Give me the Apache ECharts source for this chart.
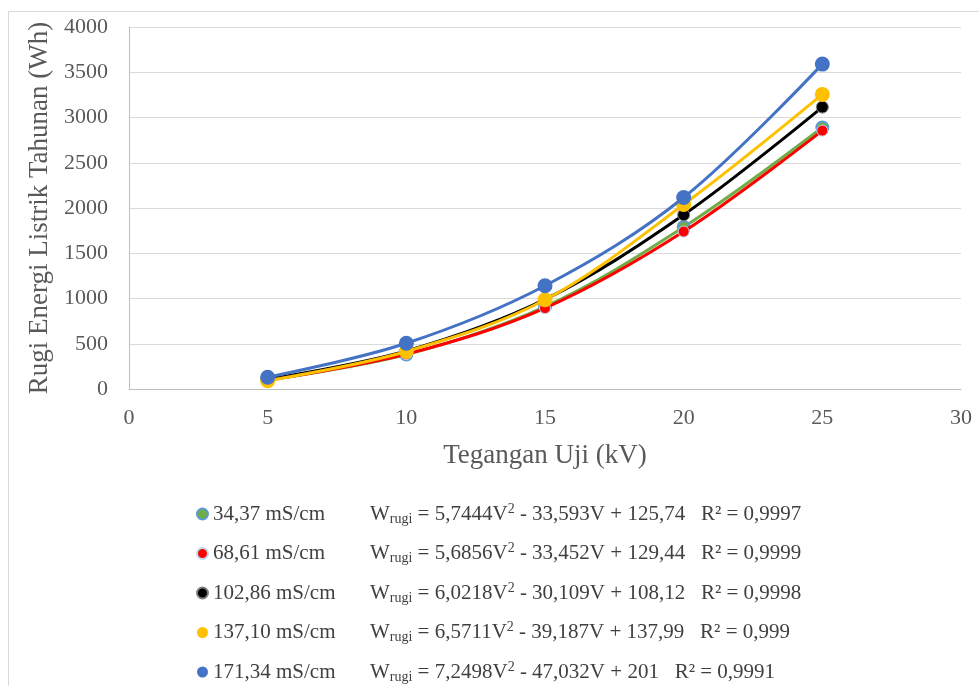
<!DOCTYPE html>
<html>
<head>
<meta charset="utf-8">
<script src="https://cdn.jsdelivr.net/npm/echarts@6/dist/echarts.min.js"></script>
<style>
    html, body { margin: 0; padding: 0; background: #fff; }
    #chart { width: 979px; height: 686px; }
</style>
</head>
<body>
<div id="chart"></div>
<script>
// DATA
const voltages = [5, 10, 15, 20, 25];
const seriesNames = ['34,37 mS/cm', '68,61 mS/cm', '102,86 mS/cm', '137,10 mS/cm', '171,34 mS/cm'];
const loss3437 = [100, 380, 910, 1790, 2890];
const loss6861 = [98, 385, 894, 1740, 2855];
const loss10286 = [108, 420, 990, 1925, 3115];
const loss13710 = [92, 415, 986, 2039, 3255];
const loss17134 = [130, 506, 1141, 2116, 3590];
const equations = [
    ['5,7444', '33,593', '125,74', '0,9997'],
    ['5,6856', '33,452', '129,44', '0,9999'],
    ['6,0218', '30,109', '108,12', '0,9998'],
    ['6,5711', '39,187', '137,99', '0,999'],
    ['7,2498', '47,032', '201', '0,9991']
];
const xTicks = { min: 0, max: 30, interval: 5 };
const yTicks = { min: 0, max: 4000, interval: 500 };

const fontFamily = '"Liberation Serif", "DejaVu Serif", serif';
const lossData = [loss3437, loss6861, loss10286, loss13710, loss17134];

// SERIES STYLES
const styles = [
    { line: '#70ad47', fill: '#70ad47', border: '#5b9bd5', size: 12, borderWidth: 2 },
    { line: '#ff0000', fill: '#ff0000', border: '#bdd7ee', size: 11, borderWidth: 1 },
    { line: '#000000', fill: '#000000', border: '#7f7f7f', size: 12, borderWidth: 1 },
    { line: '#ffc000', fill: '#ffc000', border: '#ffc000', size: 15, borderWidth: 0 },
    { line: '#4472c4', fill: '#4472c4', border: '#4472c4', size: 15, borderWidth: 0 }
];

const chart = echarts.init(document.querySelector('#chart'));

const series = seriesNames.map((name, i) => ({
    name: name,
    type: 'line',
    smooth: 0.35,
    data: voltages.map((v, j) => [v, lossData[i][j]]),
    symbol: 'circle',
    symbolSize: styles[i].size,
    showSymbol: true,
    lineStyle: { color: styles[i].line, width: 3 },
    itemStyle: {
        color: styles[i].fill,
        borderColor: styles[i].border,
        borderWidth: styles[i].borderWidth
    },
    z: 2 + i
}));

function legendText(name) {
    const eq = equations[seriesNames.indexOf(name)];
    return `{n|${name}}{e|W}{s|rugi}{e| = ${eq[0]}V}{p|2}{e| - ${eq[1]}V + ${eq[2]}   R² = ${eq[3]}}`;
}

const option = {
    backgroundColor: '#fff',
    animation: false,
    graphic: [
        {
            type: 'rect',
            shape: { x: 8.5, y: 11.5, width: 1000, height: 700 },
            style: { fill: 'none', stroke: '#d9d9d9', lineWidth: 1 },
            silent: true
        }
    ],
    grid: {
        left: 129,
        right: 18,
        top: 27,
        bottom: 297
    },
    xAxis: {
        type: 'value',
        min: xTicks.min,
        max: xTicks.max,
        interval: xTicks.interval,
        name: 'Tegangan Uji (kV)',
        nameLocation: 'middle',
        nameGap: 53,
        nameTextStyle: { fontFamily: fontFamily, fontSize: 27, color: '#595959' },
        axisLine: { show: true, lineStyle: { color: '#bfbfbf', width: 1 } },
        axisTick: { show: false },
        splitLine: { show: false },
        axisLabel: { fontFamily: fontFamily, fontSize: 22, color: '#595959', margin: 18 }
    },
    yAxis: {
        type: 'value',
        min: yTicks.min,
        max: yTicks.max,
        interval: yTicks.interval,
        name: 'Rugi Energi Listrik Tahunan (Wh)',
        nameLocation: 'middle',
        nameGap: 76,
        nameTextStyle: { fontFamily: fontFamily, fontSize: 27, color: '#595959' },
        axisLine: { show: true, lineStyle: { color: '#bfbfbf', width: 1 } },
        axisTick: { show: false },
        splitLine: { show: true, lineStyle: { color: '#d9d9d9', width: 1 } },
        axisLabel: {
            fontFamily: fontFamily,
            fontSize: 22,
            color: '#595959',
            margin: 21,
            formatter: (value) => String(value)
        }
    },
    legend: {
        orient: 'vertical',
        left: 196,
        top: 502,
        padding: 0,
        itemGap: 15.5,
        itemWidth: 11,
        itemHeight: 11,
        icon: 'circle',
        data: seriesNames,
        formatter: legendText,
        textStyle: {
            fontFamily: fontFamily,
            color: '#404040',
            rich: {
                n: { fontFamily: fontFamily, fontSize: 21, color: '#404040', width: 157, lineHeight: 24 },
                e: { fontFamily: fontFamily, fontSize: 21, color: '#404040', lineHeight: 24 },
                s: { fontFamily: fontFamily, fontSize: 14, color: '#404040', verticalAlign: 'bottom' },
                p: { fontFamily: fontFamily, fontSize: 14, color: '#404040', verticalAlign: 'top' }
            }
        }
    },
    series: series
};

chart.setOption(option);
</script>
</body>
</html>
